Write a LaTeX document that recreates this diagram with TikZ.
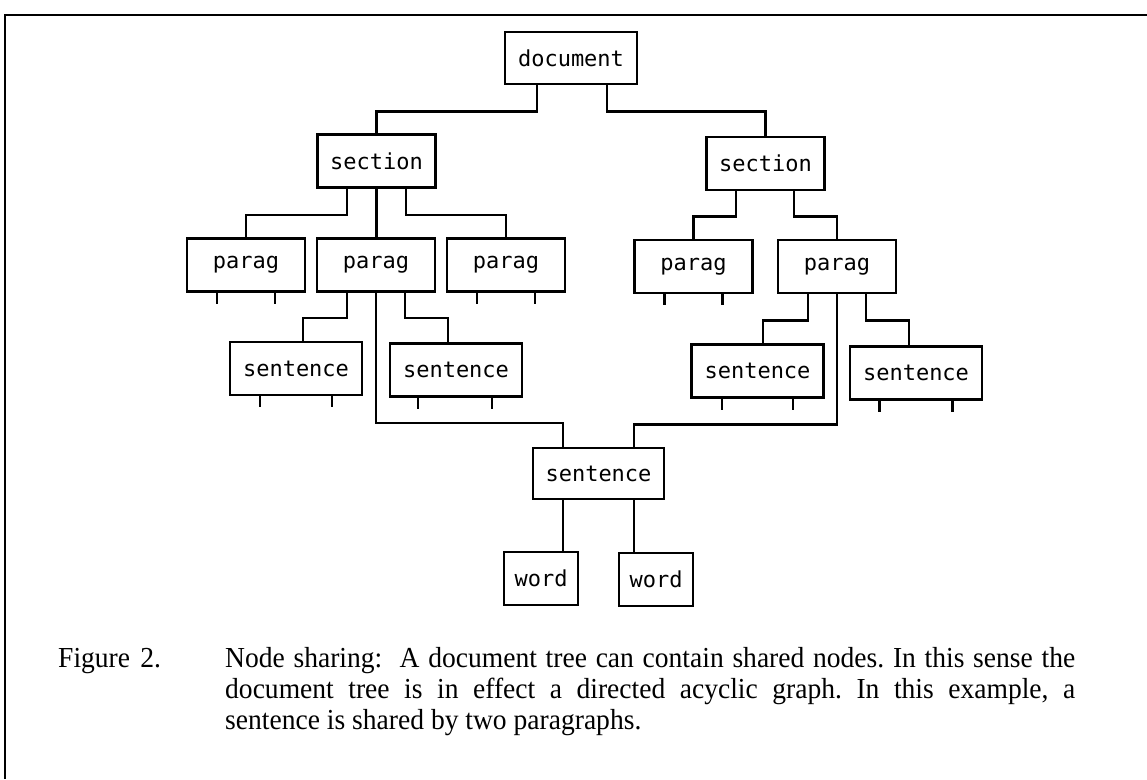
\documentclass[tikz,border=0pt]{standalone}
\usepackage{fontspec}
\setmainfont{Liberation Serif}
\newfontfamily\capfont[FakeStretch=0.95]{Liberation Serif}
\newfontfamily\boxfont{DejaVu Sans Mono}
\begin{document}
\frenchspacing
\begin{tikzpicture}[x=1pt,y=-1pt,
  box/.style={draw, line width=2.8pt, inner sep=0pt, font=\boxfont\fontsize{22}{24}\selectfont},
  wbox/.style={box, minimum width=118pt, minimum height=53pt},
  sbox/.style={box, minimum width=132pt, minimum height=53pt},
  dbox/.style={box, minimum width=74pt, minimum height=53pt},
  link/.style={line width=2.8pt},
  stub/.style={line width=2.8pt},
  captext/.style={anchor=base west, inner sep=0pt, font=\capfont\fontsize{29}{31}\selectfont}
]
\useasboundingbox (0,0) rectangle (1147,779);
% frame (top and left edges)
\draw[line width=2.8pt] (1147,15) -- (5,15) -- (5,779);

% nodes
\node[box, minimum width=132pt, minimum height=52pt] (doc) at (571,58) {document};
\node[wbox] (secL) at (376.5,161) {section};
\node[wbox] (secR) at (765.5,163.5) {section};
\node[wbox] (p1) at (246,265) {parag};
\node[wbox] (p2) at (376,265) {parag};
\node[wbox] (p3) at (506,265) {parag};
\node[wbox] (p4) at (693.5,266.5) {parag};
\node[wbox] (p5) at (837,266.5) {parag};
\node[sbox] (s1) at (296,368.5) {sentence};
\node[sbox] (s2) at (456,370) {sentence};
\node[sbox] (s3) at (757.5,371) {sentence};
\node[sbox] (s4) at (916,373) {sentence};
\node[box, minimum width=131pt, minimum height=51pt] (ss) at (598.5,473.5) {sentence};
\node[dbox] (w1) at (541,578.5) {word};
\node[dbox] (w2) at (656,579.5) {word};

% connectors
\draw[link] ([xshift=-34pt]doc.south) -- ++(0,26) -| (secL.north);
\draw[link] ([xshift=36pt]doc.south) -- ++(0,26) -| (secR.north);
\draw[link] ([xshift=-29.5pt]secL.south) -- ++(0,26) -| (p1.north);
\draw[link] (secL.south) -- (secL.south |- p2.north);
\draw[link] ([xshift=29.5pt]secL.south) -- ++(0,26) -| (p3.north);
\draw[link] ([xshift=-29.5pt]secR.south) -- ++(0,25) -| (p4.north);
\draw[link] ([xshift=28.5pt]secR.south) -- ++(0,25) -| (p5.north);
\draw[link] ([xshift=-29pt]p2.south) -- ++(0,25) -| ([xshift=7pt]s1.north);
\draw[link] ([xshift=29pt]p2.south) -- ++(0,25) -| ([xshift=-8pt]s2.north);
\draw[link] (p2.south) -- ++(0,130) -| ([xshift=-35.5pt]ss.north);
\draw[link] ([xshift=-29pt]p5.south) -- ++(0,26) -| ([xshift=5.5pt]s3.north);
\draw[link] ([xshift=29pt]p5.south) -- ++(0,26) -| ([xshift=-7pt]s4.north);
\draw[link] (p5.south) -- ++(0,130) -| ([xshift=35.5pt]ss.north);
\draw[link] ([xshift=-35.5pt]ss.south) -- ([xshift=-35.5pt]ss.south |- w1.north);
\draw[link] ([xshift=35.5pt]ss.south) -- ([xshift=35.5pt]ss.south |- w2.north);

% stubs under leaf nodes
\foreach \n/\d in {p1/29, p3/29, p4/29, s1/36, s3/35.5, s4/36.5} {
  \draw[stub] ([xshift=-\d pt]\n.south) -- ++(0,11);
  \draw[stub] ([xshift=\d pt]\n.south) -- ++(0,11);
}
\draw[stub] ([xshift=-38pt]s2.south) -- ++(0,11);
\draw[stub] ([xshift=36pt]s2.south) -- ++(0,11);

% caption
\node[captext] (fig) at (58,667) {Figure\hspace{0.35em}2.};
\node[captext] (l1) at (225,667) {\makebox[850pt][s]{Node sharing:\hspace{0.6em}A document tree can contain shared nodes. In this sense the}};
\node[captext] (l2) at (225,698) {\makebox[850pt][s]{document tree is in effect a directed acyclic graph. In this example, a}};
\node[captext] (l3) at (225,729) {sentence is shared by two paragraphs.};
\end{tikzpicture}
\end{document}
